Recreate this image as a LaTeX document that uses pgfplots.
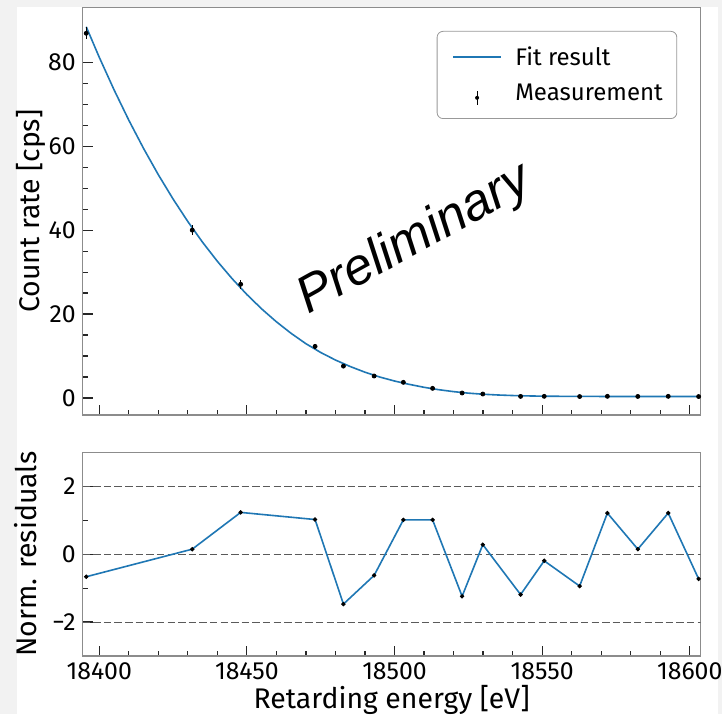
\documentclass[border=0pt]{standalone}
\usepackage{pgfplots}
\pgfplotsset{compat=1.18}
\usepackage{pgfplotstable}
\usepackage{fontspec}
\setmainfont{Fira Sans}
\newfontfamily\arialfont{Liberation Sans}
\definecolor{mplblue}{HTML}{1F77B4}
\definecolor{bggray}{HTML}{F2F2F2}
\definecolor{framegray}{HTML}{8C8C8C}
\definecolor{dashgray}{HTML}{5A5A5A}

\pgfplotstableread{
x y e
18395.6 86.9 1.4
18431.5 40.0 1.25
18447.9 27.1 1.1
18473.1 12.3 0.6
18482.7 7.6 0.45
18493.1 5.24 0.35
18503.0 3.73 0.3
18512.9 2.3 0.25
18522.9 1.19 0.2
18529.9 0.95 0.15
18542.7 0.38 0.1
18550.7 0.40 0.1
18562.7 0.35 0.1
18572.1 0.40 0.1
18582.4 0.37 0.1
18592.7 0.40 0.1
18603.0 0.35 0.1
}\meas

\pgfplotstableread{
x y
18395.6 88.45
18400 81.2
18405 73.46
18410 66.22
18415 59.48
18420 53.22
18425 47.42
18430 42.05
18435 37.11
18440 32.58
18445 28.44
18450 24.66
18455 21.24
18460 18.16
18465 15.40
18470 12.94
18475 10.85
18480 9.05
18485 7.5
18490 6.15
18495 5.0
18500 4.05
18505 3.25
18510 2.55
18515 1.98
18520 1.52
18525 1.16
18530 0.9
18535 0.72
18540 0.59
18545 0.5
18550 0.44
18555 0.41
18560 0.39
18570 0.37
18580 0.36
18590 0.355
18603 0.35
}\fit

\pgfplotstableread{
x r
18395.6 -0.665
18431.5 0.147
18447.9 1.23
18473.1 1.02
18482.7 -1.47
18493.1 -0.626
18503.0 1.01
18512.9 1.01
18522.9 -1.24
18529.9 0.28
18542.7 -1.19
18550.7 -0.196
18562.7 -0.94
18572.1 1.21
18582.4 0.147
18592.7 1.21
18603.0 -0.73
}\resid

\pgfplotsset{
  common/.style={
    scale only axis, width=309pt,
    xmin=18394.4, xmax=18603.7,
    xtick={18400,18450,...,18600}, minor x tick num=4,
    tick align=inside, xtick pos=left, ytick pos=left,
    major tick length=5pt, minor tick length=2.5pt,
    tick style={black!85, line width=0.6pt},
    axis line style={framegray, line width=0.75pt},
    tick label style={font=\fontsize{12.4}{14}\selectfont},
    /pgf/number format/assume math mode=true,
    /pgf/number format/set thousands separator={},
    scaled x ticks=false,
    label style={font=\fontsize{14.2}{16}\selectfont},
    clip=true,
  }
}

\begin{document}
\begin{tikzpicture}
\fill[bggray] (0,0) rectangle (361pt,357pt);
\fill[white] (8.5pt,0) rectangle (359pt,353.5pt);

% top panel
\begin{axis}[common,
  at={(41.35pt,149.5pt)}, anchor=south west,
  height=203.85pt,
  ymin=-4.05, ymax=93.1,
  ytick={0,20,40,60,80}, minor y tick num=3,
  xticklabels={},
  ylabel={Count rate [cps]},
  ylabel style={at={(axis description cs:-0.0702,0.5)}, anchor=base},
  legend style={at={(0.962,0.942)}, anchor=north east,
    draw=gray!80, rounded corners=3pt, fill=white,
    font=\fontsize{12}{14}\selectfont,
    inner xsep=5pt, inner ysep=5.5pt, row sep=4pt,
    cells={anchor=west},
    /tikz/every odd column/.append style={column sep=4.7pt}},
]
\addplot[mplblue, line width=0.8pt,
  legend image code/.code={\path[draw=none, fill=none] (-3pt,0pt) rectangle (24pt,0.1pt);
    \path[draw=mplblue, line width=0.8pt] (0pt,0pt) -- (24pt,0pt);}]
  table[x=x, y=y] {\fit};
\addlegendentry{Fit result}
\addplot[black, only marks, mark=*, mark size=1pt,
  error bars/.cd, y dir=both, y explicit, error mark=none,
  error bar style={line width=0.6pt, black},
  /pgfplots/legend image code/.code={\path[draw=none, fill=none] (-3pt,0pt) rectangle (24pt,0.1pt);
    \path[draw=black, line width=0.6pt] (12pt,-5.5pt) -- (12pt,1.5pt);
    \path[draw=none, fill=black] (12pt,-2pt) circle (1pt);}]
  table[x=x, y=y, y error=e] {\meas};
\addlegendentry{Measurement}
\end{axis}

% residual panel
\begin{axis}[common,
  at={(41.35pt,29pt)}, anchor=south west,
  height=101.85pt,
  ymin=-3, ymax=3,
  ytick={-2,0,2}, yticklabels={−2,0,2}, minor y tick num=1,
  xlabel={Retarding energy [eV]},
  xlabel style={at={(axis description cs:0.5,-0.2568)}, anchor=base},
  ylabel={Norm. residuals},
  ylabel style={at={(axis description cs:-0.0749,0.5)}, anchor=base},
]
\addplot[dashgray, line width=0.5pt, dash pattern=on 3.7pt off 1.6pt] coordinates {(18394.4,2) (18603.7,2)};
\addplot[dashgray, line width=0.5pt, dash pattern=on 3.7pt off 1.6pt] coordinates {(18394.4,0) (18603.7,0)};
\addplot[dashgray, line width=0.5pt, dash pattern=on 3.7pt off 1.6pt] coordinates {(18394.4,-2) (18603.7,-2)};
\addplot[mplblue, line width=0.8pt] table[x=x, y=r] {\resid};
\addplot[black, only marks, mark=*, mark size=0.9pt] table[x=x, y=r] {\resid};
\end{axis}

\node[font=\arialfont\itshape\fontsize{25.8}{30}\selectfont, rotate=29, anchor=base] at (210.5pt,231pt) {Preliminary};

\pgfresetboundingbox
\path[use as bounding box] (0,0) rectangle (361pt,357pt);
\end{tikzpicture}
\end{document}
